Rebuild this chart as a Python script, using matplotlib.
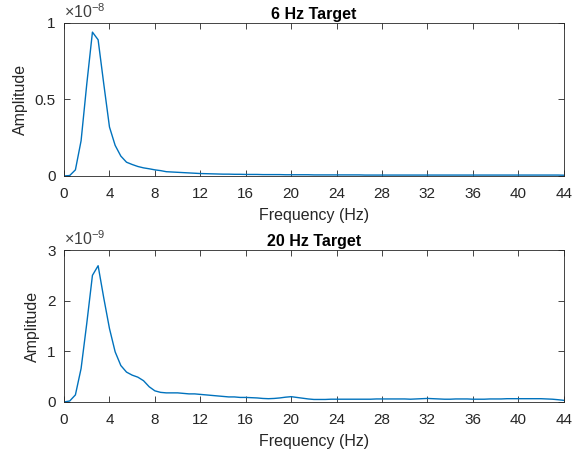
import matplotlib
matplotlib.use('Agg')
import matplotlib.pyplot as plt
import numpy as np

plt.rcParams['font.family'] = ['Liberation Sans', 'DejaVu Sans']
plt.rcParams['mathtext.fontset'] = 'custom'
plt.rcParams['mathtext.rm'] = 'Liberation Sans'

# frequency axis, 0.5 Hz spacing
freq = np.arange(0, 44.01, 0.5)

# 6 Hz target amplitude (x 1e-8)
amp_6hz = [
    0.0, 0.003, 0.04, 0.23, 0.60, 0.94, 0.89, 0.60, 0.32, 0.20,
    0.13, 0.09, 0.075, 0.062, 0.053, 0.047, 0.040, 0.035, 0.028, 0.026,
    0.024, 0.022, 0.020, 0.018, 0.016, 0.015, 0.014, 0.013, 0.012, 0.012,
    0.011, 0.011, 0.010, 0.010, 0.010, 0.009, 0.009, 0.009, 0.009, 0.008,
    0.008, 0.008, 0.008, 0.008, 0.007, 0.007, 0.007, 0.007, 0.007, 0.007,
    0.007, 0.007, 0.007, 0.006, 0.006, 0.006, 0.006, 0.006, 0.006, 0.006,
    0.006, 0.006, 0.006, 0.006, 0.006, 0.006, 0.006, 0.006, 0.006, 0.006,
    0.006, 0.006, 0.006, 0.006, 0.006, 0.006, 0.006, 0.006, 0.006, 0.006,
    0.006, 0.006, 0.006, 0.006, 0.006, 0.006, 0.006, 0.006, 0.005,
]

# 20 Hz target amplitude (x 1e-9)
amp_20hz = [
    0.0, 0.02, 0.14, 0.66, 1.55, 2.50, 2.69, 2.05, 1.45, 0.99,
    0.72, 0.59, 0.53, 0.49, 0.42, 0.30, 0.22, 0.19, 0.18, 0.18,
    0.18, 0.17, 0.16, 0.16, 0.15, 0.14, 0.13, 0.12, 0.11, 0.10,
    0.10, 0.09, 0.09, 0.085, 0.08, 0.07, 0.065, 0.07, 0.08, 0.095,
    0.105, 0.09, 0.075, 0.06, 0.05, 0.05, 0.05, 0.055, 0.055, 0.055,
    0.055, 0.055, 0.055, 0.055, 0.055, 0.06, 0.06, 0.06, 0.06, 0.06,
    0.06, 0.055, 0.06, 0.065, 0.07, 0.065, 0.06, 0.055, 0.055, 0.06,
    0.06, 0.06, 0.055, 0.055, 0.055, 0.06, 0.06, 0.06, 0.065, 0.065,
    0.065, 0.065, 0.065, 0.065, 0.065, 0.06, 0.055, 0.045, 0.033,
]

xticks = np.arange(0, 45, 4)
line_col = '#0072BD'
ax_col = '#262626'

fig = plt.figure(figsize=(5.77, 4.59), dpi=100)


def do_panel(rect, y, scale, yticks, yticklabels, ymax, title, exp_txt):
    ax = fig.add_axes(rect)
    ax.plot(freq, np.array(y) * scale, color=line_col, lw=1.0)
    ax.set_xlim(0, 44)
    ax.set_ylim(0, ymax * scale)
    ax.set_xticks(xticks)
    ax.set_yticks(np.array(yticks) * scale)
    ax.set_yticklabels(yticklabels)
    ax.tick_params(direction='in', top=True, right=True, length=4,
                   width=0.6, colors=ax_col, labelsize=11)
    ax.tick_params(axis='x', pad=8)
    ax.tick_params(axis='y', pad=6)
    for s in ax.spines.values():
        s.set_color(ax_col)
        s.set_linewidth(0.6)
    ax.set_xlabel('Frequency (Hz)', fontsize=11.5, color=ax_col, labelpad=5)
    ax.set_ylabel('Amplitude', fontsize=11.5, color=ax_col, labelpad=5)
    ax.set_title(title, fontsize=11.5, fontweight='bold', pad=3)
    ax.text(0.0, 1.01, exp_txt, transform=ax.transAxes, fontsize=11.5,
            color='#404040', ha='left', va='bottom')
    return ax


do_panel([0.111, 0.6166, 0.866, 0.3334], amp_6hz, 1e-8,
         [0, 0.5, 1], ['0', '0.5', '1'], 1.0, '6 Hz Target',
         r'$\times10^{-8}$')
do_panel([0.111, 0.1242, 0.866, 0.3311], amp_20hz, 1e-9,
         [0, 1, 2, 3], ['0', '1', '2', '3'], 3.0, '20 Hz Target',
         r'$\times10^{-9}$')

plt.savefig('out.png', dpi=100)
plt.close()
